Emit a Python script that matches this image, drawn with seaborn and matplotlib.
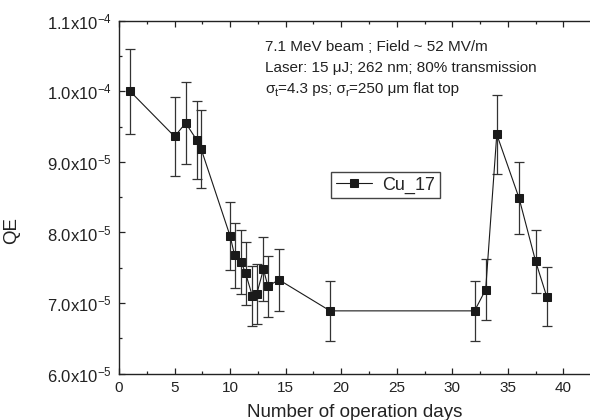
import matplotlib
matplotlib.use("Agg")
import matplotlib.pyplot as plt
import seaborn as sns
import pandas as pd
from matplotlib.ticker import MultipleLocator, FixedLocator

# data
days = [1, 5, 6, 7, 7.4, 10, 10.4, 11, 11.4, 12, 12.4, 13, 13.4, 14.4, 19,
        32, 33, 34, 36, 37.5, 38.5]
qe = [1.00e-4, 9.36e-5, 9.55e-5, 9.31e-5, 9.18e-5, 7.95e-5, 7.68e-5, 7.58e-5,
      7.42e-5, 7.10e-5, 7.13e-5, 7.48e-5, 7.24e-5, 7.33e-5, 6.89e-5,
      6.89e-5, 7.19e-5, 9.39e-5, 8.49e-5, 7.59e-5, 7.09e-5]
qe_err = [0.60e-5, 0.56e-5, 0.58e-5, 0.55e-5, 0.55e-5, 0.48e-5, 0.46e-5, 0.45e-5,
          0.45e-5, 0.42e-5, 0.43e-5, 0.45e-5, 0.43e-5, 0.44e-5, 0.42e-5,
          0.42e-5, 0.43e-5, 0.56e-5, 0.51e-5, 0.45e-5, 0.42e-5]
y_ticks = [6e-5, 7e-5, 8e-5, 9e-5, 1.0e-4, 1.1e-4]
y_tick_labels = [r"6.0x10$^{-5}$", r"7.0x10$^{-5}$", r"8.0x10$^{-5}$",
                 r"9.0x10$^{-5}$", r"1.0x10$^{-4}$", r"1.1x10$^{-4}$"]
notes = ["7.1 MeV beam ; Field ~ 52 MV/m",
         "Laser: 15 μJ; 262 nm; 80% transmission"]
# last note line: pieces (text, is_subscript)
note_sigma = [("σ", False), ("t", True), ("=4.3 ps; σ", False), ("r", True),
              ("=250 μm flat top", False)]

df = pd.DataFrame({"days": days, "qe": qe, "err": qe_err})

sns.set_theme(style="ticks")
plt.rcParams["font.family"] = ["Liberation Sans", "DejaVu Sans"]
plt.rcParams["mathtext.fontset"] = "custom"
plt.rcParams["mathtext.rm"] = "Liberation Sans"
plt.rcParams["mathtext.it"] = "Liberation Sans"
plt.rcParams["mathtext.default"] = "regular"

W, H = 590, 420
fig = plt.figure(figsize=(5.9, 4.2), dpi=100)
ax = fig.add_axes([119 / W, 46.3 / H, 500 / W, 353 / H])

ax.errorbar(df["days"], df["qe"], yerr=df["err"], fmt="none", ecolor="#333333",
            elinewidth=0.9, capsize=3.5, capthick=0.9, zorder=2)
sns.lineplot(data=df, x="days", y="qe", ax=ax, color="#1a1a1a", linewidth=0.8,
             marker="s", markersize=6.3, markeredgecolor="#1a1a1a",
             label="Cu_17", sort=False, zorder=3)

ax.set_xlim(0, 45)
ax.set_ylim(6e-5, 1.1e-4)
ax.xaxis.set_major_locator(FixedLocator([0, 5, 10, 15, 20, 25, 30, 35, 40]))
ax.xaxis.set_minor_locator(MultipleLocator(2.5))
ax.yaxis.set_major_locator(FixedLocator(y_ticks))
ax.yaxis.set_minor_locator(MultipleLocator(0.5e-5))
ax.set_yticklabels(y_tick_labels)

for s in ["left", "bottom", "top"]:
    ax.spines[s].set_linewidth(1.0)
    ax.spines[s].set_color("#222222")
ax.spines["right"].set_visible(False)
ax.tick_params(which="both", direction="in", top=True, right=False,
               colors="#222222", width=0.9)
ax.tick_params(which="major", length=4.5, pad=5)
ax.tick_params(which="minor", length=2.2)
ax.tick_params(axis="x", labelsize=11)
ax.tick_params(axis="y", labelsize=12)

ax.set_xlabel("Number of operation days", fontsize=13.5, color="#222222")
ax.set_ylabel("QE", fontsize=13.5, color="#222222")
ax.xaxis.set_label_coords(0.472, -0.085)
ax.yaxis.set_label_coords(-0.198, 0.407)

for i, line in enumerate(notes):
    fig.text(265 / W, 1 - (51 + 20.8 * i) / H, line, fontsize=11,
             color="#222222", va="baseline", ha="left")

leg = ax.legend(loc="upper left", bbox_to_anchor=(0.424, 0.571), borderaxespad=0,
                fancybox=False, edgecolor="#444444", fontsize=13,
                handlelength=2.0, handletextpad=0.6, borderpad=0.25,
                framealpha=1)
leg.get_frame().set_linewidth(1.0)

# third note line, built piece by piece so the subscripts sit low
fig.canvas.draw()
r = fig.canvas.get_renderer()
x_px = 265
base_px = 51 + 20.8 * 2
for piece, sub in note_sigma:
    t = fig.text(x_px / W, 1 - (base_px + (3 if sub else 0)) / H, piece,
                 fontsize=8 if sub else 11, color="#222222",
                 va="baseline", ha="left")
    x_px += t.get_window_extent(r).width

fig.savefig("out.png", dpi=100)
plt.close(fig)
